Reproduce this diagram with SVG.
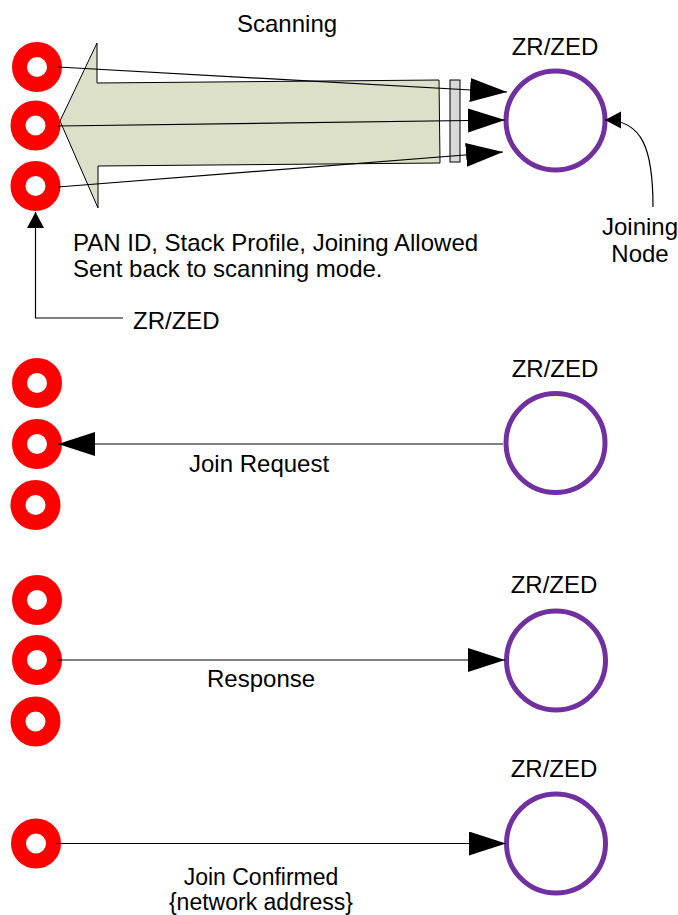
<svg xmlns="http://www.w3.org/2000/svg" width="678" height="915" viewBox="0 0 678 915">
<defs>
<style>
text{font-family:"Liberation Sans",Arial,sans-serif;font-size:24px;fill:#000}
.ring{fill:none;stroke:#FF0000;stroke-width:15}
.zed{fill:none;stroke:#7030A0;stroke-width:5}
.conn{fill:none;stroke:#000;stroke-width:1.2}
.mid{text-anchor:middle}
.tight{font-size:23px}
</style>
<marker id="big" markerUnits="userSpaceOnUse" markerWidth="38" markerHeight="26" refX="37" refY="12" orient="auto">
<path d="M0,0 L37,12 L0,24 z" fill="#000"/>
</marker>
<marker id="small" markerUnits="userSpaceOnUse" markerWidth="18" markerHeight="18" refX="16" refY="8.5" orient="auto">
<path d="M0,0 L16,8.5 L0,17 z" fill="#000"/>
</marker>
</defs>
<rect width="678" height="915" fill="#fff"/>

<g id="scan-arrow">
<polygon points="97,43 97,83 439,80 440,163 98,166 98,208 60,121" fill="#DCE0C9" stroke="#000" stroke-width="1"/>
<rect x="450" y="80" width="10" height="82" fill="#D9D9D9" stroke="#000" stroke-width="1"/>
</g>

<g id="s1-coord-1"><circle class="ring" cx="37" cy="67" r="17.5"/></g>
<g id="s1-coord-2"><circle class="ring" cx="35.5" cy="125.5" r="17.5"/></g>
<g id="s1-coord-3"><circle class="ring" cx="35.5" cy="186" r="17.5"/></g>
<g id="s1-joining"><circle class="zed" cx="555.5" cy="120.5" r="49.5"/></g>

<g id="s2-coord-1"><circle class="ring" cx="37" cy="383" r="17.5"/></g>
<g id="s2-coord-2"><circle class="ring" cx="37" cy="444" r="17.5"/></g>
<g id="s2-coord-3"><circle class="ring" cx="35.5" cy="505" r="17.5"/></g>
<g id="s2-zed"><circle class="zed" cx="555.5" cy="443" r="49.5"/></g>

<g id="s3-coord-1"><circle class="ring" cx="37" cy="600" r="17.5"/></g>
<g id="s3-coord-2"><circle class="ring" cx="37" cy="660" r="17.5"/></g>
<g id="s3-coord-3"><circle class="ring" cx="35.5" cy="721.5" r="17.5"/></g>
<g id="s3-zed"><circle class="zed" cx="556" cy="660.5" r="49.5"/></g>

<g id="s4-coord"><circle class="ring" cx="36" cy="843.5" r="17.5"/></g>
<g id="s4-zed"><circle class="zed" cx="556" cy="843.5" r="49.5"/></g>

<g id="connectors">
<line class="conn" x1="58" y1="67" x2="507" y2="92" marker-end="url(#big)"/>
<line class="conn" x1="58" y1="126" x2="505" y2="120" marker-end="url(#big)"/>
<line class="conn" x1="58" y1="187" x2="503" y2="152" marker-end="url(#big)"/>
<path class="conn" d="M653,207 C653,150 643,120 605,120" marker-end="url(#small)"/>
<path class="conn" d="M123,318 L35.5,318 L35.5,212" marker-end="url(#small)"/>
<line class="conn" x1="503" y1="444" x2="58" y2="444" marker-end="url(#big)"/>
<line class="conn" x1="57" y1="660" x2="505" y2="660" marker-end="url(#big)"/>
<line class="conn" x1="56.5" y1="843.5" x2="506" y2="843.5" marker-end="url(#big)"/>
</g>

<g id="labels">
<text x="237" y="32">Scanning</text>
<text class="mid" x="555" y="55">ZR/ZED</text>
<text class="mid" x="640" y="235">Joining</text>
<text class="mid" x="640" y="262">Node</text>
<text x="73" y="251">PAN ID, Stack Profile, Joining Allowed</text>
<text x="73" y="277">Sent back to scanning mode.</text>
<text x="133" y="329">ZR/ZED</text>
<text class="mid" x="555" y="377">ZR/ZED</text>
<text x="189" y="472">Join Request</text>
<text class="mid" x="554" y="593">ZR/ZED</text>
<text x="207" y="687">Response</text>
<text class="mid" x="554" y="777">ZR/ZED</text>
<text class="mid tight" x="261" y="885">Join Confirmed</text>
<text class="mid tight" x="261" y="910">{network address}</text>
</g>
</svg>
